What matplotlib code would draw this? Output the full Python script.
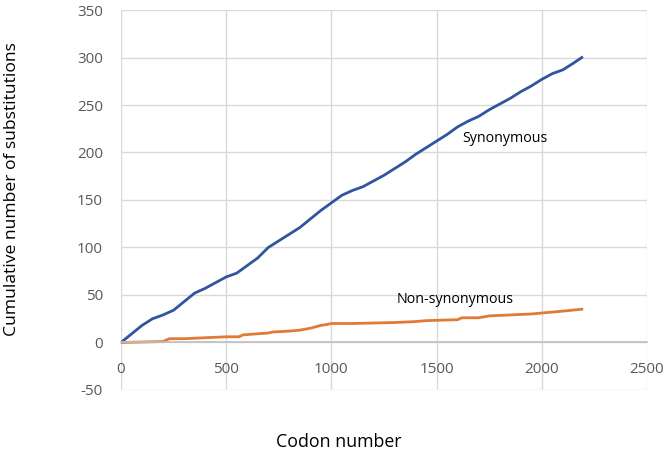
import numpy as np
import matplotlib.pyplot as plt

plt.rcParams['font.family'] = ['Open Sans', 'DejaVu Sans']
plt.rcParams['axes.unicode_minus'] = False

# synonymous cumulative substitutions
syn_x = [0, 50, 100, 150, 200, 250, 300, 350, 400, 450, 500, 550, 600, 650, 700,
         750, 800, 850, 900, 950, 1000, 1050, 1100, 1150, 1200, 1250, 1300, 1350,
         1400, 1450, 1500, 1550, 1600, 1650, 1700, 1750, 1800, 1850, 1900, 1950,
         2000, 2050, 2100, 2150, 2190]
syn_y = [0, 9, 18, 25, 29, 34, 43, 52, 57, 63, 69, 73, 81, 89, 100,
         107, 114, 121, 130, 139, 147, 155, 160, 164, 170, 176, 183, 190,
         198, 205, 212, 219, 227, 233, 238, 245, 251, 257, 264, 270,
         277, 283, 287, 294, 300]

# non-synonymous cumulative substitutions
non_x = [0, 100, 200, 230, 300, 400, 500, 560, 580, 700, 720, 800, 850, 900, 950,
         980, 1000, 1100, 1200, 1300, 1400, 1450, 1600, 1620, 1700, 1750, 1850,
         1950, 2000, 2100, 2190]
non_y = [0, 0.5, 1, 4, 4, 5, 6, 6, 8, 10, 11, 12, 13, 15, 18,
         19, 20, 20, 20.5, 21, 22, 23, 24, 26, 26, 28, 29,
         30, 31, 33, 35]

xticks = [0, 500, 1000, 1500, 2000, 2500]
yticks = [-50, 0, 50, 100, 150, 200, 250, 300, 350]

fig = plt.figure(figsize=(6.67, 4.55), dpi=100)
ax = fig.add_axes([0.1814, 0.1429, 0.7886, 0.8351])

ax.plot(syn_x, syn_y, color='#2F55A2', lw=2)
ax.plot(non_x, non_y, color='#E07A35', lw=2)

ax.set_xlim(0, 2500)
ax.set_ylim(-50, 350)
ax.set_xticks(xticks)
ax.set_yticks(yticks)
ax.grid(True, color='#d9d9d9', lw=1)
ax.set_axisbelow(True)

for s in ['top', 'right', 'left']:
    ax.spines[s].set_visible(False)
ax.spines['bottom'].set_position(('data', 0))
ax.spines['bottom'].set_color('#bfbfbf')
ax.spines['bottom'].set_linewidth(1.2)
ax.tick_params(length=0, labelsize=11, colors='#595959')
ax.tick_params(axis='x', pad=14)
ax.tick_params(axis='y', pad=13)

ax.text(1825, 215, 'Synonymous', fontsize=10.3, ha='center', va='center')
ax.text(1587, 45, 'Non-synonymous', fontsize=10.3, ha='center', va='center')

fig.text(0.508, 0.008, 'Codon number', fontsize=12.8, ha='center', va='bottom')
fig.text(0.018, 0.585, 'Cumulative number of substitutions', fontsize=12.6,
         ha='center', va='center', rotation=90)

fig.savefig('out.png', dpi=100)
